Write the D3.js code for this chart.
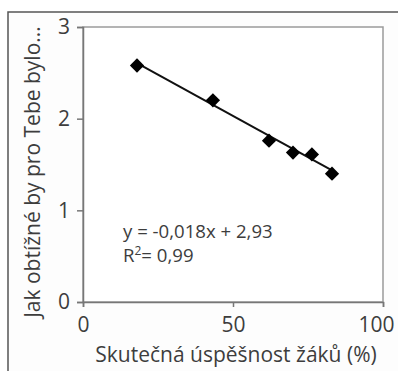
<!DOCTYPE html>
<html><head><meta charset="utf-8">
<script src="https://cdn.jsdelivr.net/npm/d3@7"></script>
<style>
html,body{margin:0;padding:0;background:#fff;}
svg{display:block;}
text{font-family:"Open Sans",sans-serif;fill:#3d3d3d;}
</style></head>
<body><svg id="c" width="398" height="371"></svg>
<script>
// Data
const successPct = [18, 43.3, 62, 70, 76.3, 83];
const difficulty = [2.58, 2.20, 1.76, 1.63, 1.61, 1.40];
const xTicks = [0, 50, 100];
const yTicks = [0, 1, 2, 3];
const slope = -0.018, intercept = 2.93;
const eqLabel = "y = -0,018x + 2,93";
const r2Label = "0,99";
const xTitle = "Skutečná úspěšnost žáků (%)";
const yTitle = "Jak obtížné by pro Tebe bylo...";

const svg = d3.select("#c");
// outer frame
svg.append("rect").attr("x",8).attr("y",12).attr("width",400).attr("height",400)
  .attr("fill","#fdfdfd").attr("stroke","#555").attr("stroke-width",1.5);

const m = {l:83, t:27, r:383, b:302};
const x = d3.scaleLinear().domain([0,100]).range([m.l,m.r]);
const y = d3.scaleLinear().domain([0,3]).range([m.b,m.t]);

svg.append("rect").attr("x",m.l).attr("y",m.t).attr("width",m.r-m.l).attr("height",m.b-m.t)
  .attr("fill","#fff").attr("stroke","#9a9a9a").attr("stroke-width",1.5);

const xa = svg.append("g").attr("transform",`translate(0,${m.b})`)
  .call(d3.axisBottom(x).tickValues(xTicks).tickFormat(d3.format("d")).tickSize(5).tickPadding(10));
const ya = svg.append("g").attr("transform",`translate(${m.l},0)`)
  .call(d3.axisLeft(y).tickValues(yTicks).tickFormat(d3.format("d")).tickSize(6).tickPadding(7));
[xa,ya].forEach(a=>{
  a.select(".domain").attr("stroke","#777").attr("stroke-width",1.5);
  a.selectAll(".tick line").attr("stroke","#777").attr("stroke-width",1.5);
  a.selectAll("text").style("font-family","Open Sans").style("font-size","21px").attr("fill","#3d3d3d");
});
xa.selectAll(".tick text").filter(d=>d===100).attr("dx",-7);

// trend line
const xs = d3.extent(successPct);
svg.append("line")
  .attr("x1",x(xs[0])).attr("y1",y(slope*xs[0]+intercept))
  .attr("x2",x(xs[1])).attr("y2",y(slope*xs[1]+intercept))
  .attr("stroke","#111").attr("stroke-width",2);

// markers
svg.selectAll("path.pt").data(successPct).join("path").attr("class","pt")
  .attr("d", d3.symbol(d3.symbolDiamond2, 130))
  .attr("transform",(d,i)=>`translate(${x(d)},${y(difficulty[i])})`)
  .attr("fill","#000");

// equation text
svg.append("text").attr("x",123).attr("y",238).style("font-size","18.6px").text(eqLabel);
const r2 = svg.append("text").attr("x",123).attr("y",262).style("font-size","18.6px");
r2.append("tspan").text("R");
r2.append("tspan").attr("dy",-7).style("font-size","12px").text("2");
r2.append("tspan").attr("dy",7).text("= "+r2Label);

// axis titles
svg.append("text").attr("x",236).attr("y",362).attr("text-anchor","middle")
  .style("font-size","21px").text(xTitle);
svg.append("text").attr("transform",`translate(40,172) rotate(-90)`).attr("text-anchor","middle")
  .style("font-size","21px").text(yTitle);
</script></body></html>
